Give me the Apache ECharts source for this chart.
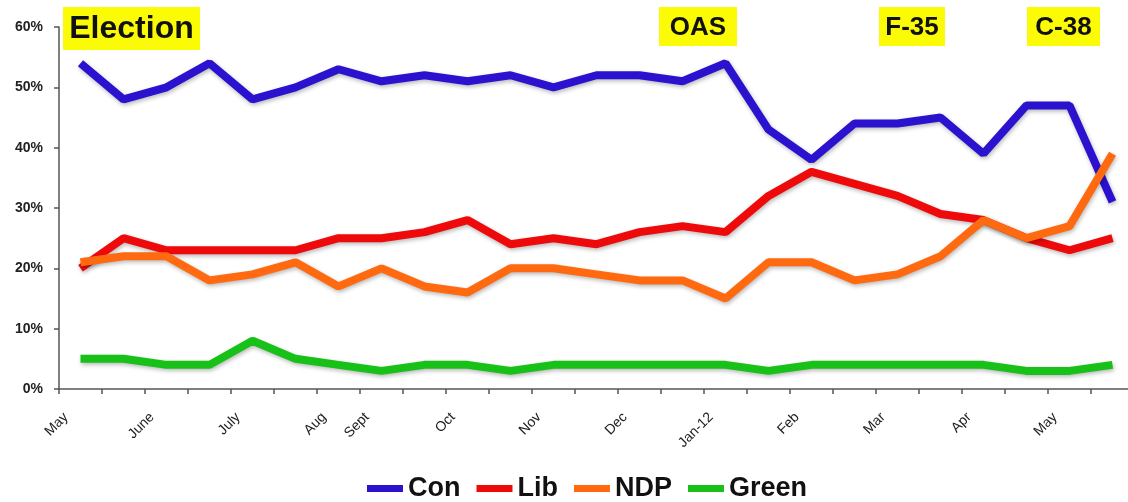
<!DOCTYPE html>
<html>
<head>
<meta charset="utf-8">
<script src="https://cdn.jsdelivr.net/npm/echarts@6/dist/echarts.min.js"></script>
<style>html,body{margin:0;padding:0;background:#fff;}#chart{width:1128px;height:502px;}</style>
</head>
<body>
<div id="chart"></div>
<script>
// Poll index (one category per poll)
const categories = ['P1','P2','P3','P4','P5','P6','P7','P8','P9','P10','P11','P12','P13','P14','P15','P16','P17','P18','P19','P20','P21','P22','P23','P24','P25'];
// Month labels placed on the category boundaries (26 boundaries)
const tickLabels = ['May','','June','','July','','Aug','Sept','','Oct','','Nov','','Dec','','Jan-12','','Feb','','Mar','','Apr','','May','',''];
const yTicks = [0,10,20,30,40,50,60];

const con   = [54,48,50,54,48,50,53,51,52,51,52,50,52,52,51,54,43,38,44,44,45,39,47,47,31];
const lib   = [20,25,23,23,23,23,25,25,26,28,24,25,24,26,27,26,32,36,34,32,29,28,25,23,25];
const ndp   = [21,22,22,18,19,21,17,20,17,16,20,20,19,18,18,15,21,21,18,19,22,28,25,27,39];
const green = [5,5,4,4,8,5,4,3,4,4,3,4,4,4,4,4,3,4,4,4,4,4,3,3,4];

const seriesNames = ['Con','Lib','NDP','Green'];
const seriesColors = ['#2a12cf','#ee0a0a','#ff6a10','#18c118'];
const annotations = ['Election','OAS','F-35','C-38'];

const FONT = '"Liberation Sans", Arial, sans-serif';
const chart = echarts.init(document.getElementById('chart'), null, {renderer:'canvas'});

function mkSeries(name, data, color){
  return {
    name: name, type: 'line', data: data,
    symbol: 'none', showSymbol: false, smooth: false,
    color: color,
    itemStyle: {color: color},
    lineStyle: {width: 8, color: color, cap: 'butt', join: 'bevel',
      shadowColor: 'rgba(0,0,0,0.28)', shadowBlur: 4, shadowOffsetX: 1, shadowOffsetY: 2},
    emphasis: {disabled: true},
    animation: false
  };
}

function annot(text, left, top, w, h, size){
  return {
    type: 'group', left: left, top: top,
    children: [
      {type:'rect', shape:{x:0,y:0,width:w,height:h}, style:{fill:'#fbfb06'}},
      {type:'text', x: w/2, y: h/2 + 1, style:{text:text, font:'bold '+size+'px '+FONT, fill:'#111', align:'center', verticalAlign:'middle'}}
    ]
  };
}

const option = {
  backgroundColor: '#fff',
  animation: false,
  grid: {left: 59, right: -6, top: 27, bottom: 113, containLabel: false, outerBoundsMode: 'none'},
  xAxis: [
    {
      type: 'category', data: categories, boundaryGap: true, position: 'bottom',
      axisLine: {show: true, lineStyle: {color: '#555', width: 1.5}},
      axisTick: {show: true, interval: 0, length: 5, inside: false, lineStyle: {color: '#555', width: 1.5}},
      axisLabel: {show: false},
      splitLine: {show: false}
    },
    {
      type: 'value', min: 0, max: tickLabels.length - 1, interval: 1, position: 'bottom',
      axisLine: {show: false}, axisTick: {show: false}, splitLine: {show: false},
      axisLabel: {
        show: true, rotate: 45, margin: 19, align: 'right', verticalAlign: 'top', lineHeight: 20,
        hideOverlap: false, showMinLabel: true, showMaxLabel: true,
        fontFamily: FONT, fontSize: 14, color: '#222',
        formatter: function(v){ return tickLabels[Math.round(v)] || ''; }
      }
    }
  ],
  yAxis: {
    type: 'value', min: yTicks[0], max: yTicks[yTicks.length-1], interval: 10,
    axisLine: {show: true, lineStyle: {color: '#555', width: 1.5}},
    axisTick: {show: true, length: 5, inside: false, lineStyle: {color: '#555', width: 1.5}},
    splitLine: {show: false},
    axisLabel: {margin: 16, fontFamily: FONT, fontSize: 14, fontWeight: 'bold', color: '#222', formatter: '{value}%'}
  },
  legend: {
    data: seriesNames.map(n => ({name: n, icon: 'rect'})),
    left: 367, top: 475, padding: 0,
    itemWidth: 36, itemHeight: 7, itemGap: 16,
    textStyle: {fontFamily: FONT, fontSize: 27, fontWeight: 'bold', color: '#111', padding: [0,0,0,0]},
    selectedMode: false
  },
  series: [
    mkSeries(seriesNames[0], con, seriesColors[0]),
    mkSeries(seriesNames[1], lib, seriesColors[1]),
    mkSeries(seriesNames[2], ndp, seriesColors[2]),
    mkSeries(seriesNames[3], green, seriesColors[3])
  ],
  graphic: [
    annot(annotations[0], 63, 7, 137, 43, 32),
    annot(annotations[1], 659, 7, 78, 39, 26),
    annot(annotations[2], 879, 7, 66, 39, 26),
    annot(annotations[3], 1027, 7, 73, 39, 26)
  ]
};
chart.setOption(option);
</script>
</body>
</html>
